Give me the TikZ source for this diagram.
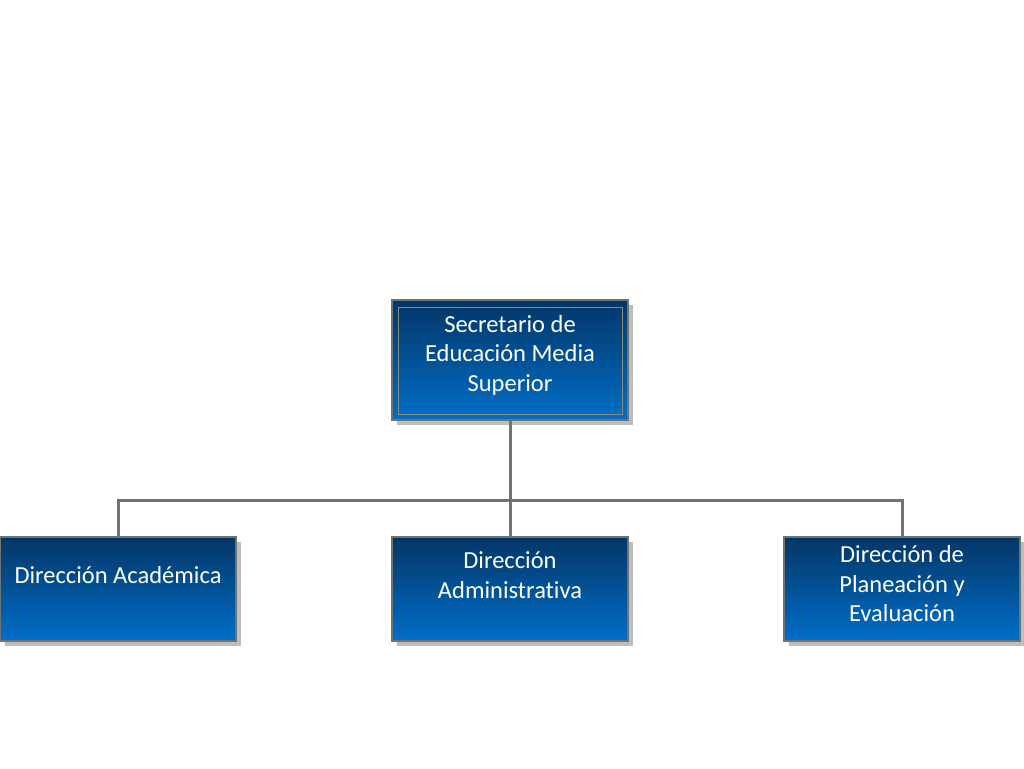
\documentclass[tikz,border=0pt]{standalone}
\usepackage{fontspec}
\setmainfont[Ligatures=NoCommon]{Carlito}
\usetikzlibrary{shadows}
\definecolor{boxtop}{RGB}{4,54,102}
\definecolor{boxbot}{RGB}{0,110,200}
\definecolor{linegray}{RGB}{110,116,114}
\definecolor{shadowgray}{RGB}{190,190,190}
\definecolor{innergray}{RGB}{140,140,120}
\tikzset{
  orgbox/.style={rectangle, draw=linegray, line width=1.2pt, top color=boxtop, bottom color=boxbot,
    minimum width=236pt, minimum height=#1, inner sep=0pt,
    drop shadow={shadow xshift=5pt, shadow yshift=-5pt, fill=shadowgray, opacity=1}},
  lbl/.style={text=white, align=center, font=\fontsize{24.5}{29.5}\selectfont, inner sep=0pt},
  conn/.style={draw=linegray, line width=3pt}
}
\begin{document}
\begin{tikzpicture}[x=1pt,y=-1pt]
\useasboundingbox (0,0) rectangle (1024,768);
\node[orgbox=120pt] (top) at (510,360) {};
\draw[innergray, line width=1pt] (398,307) rectangle (622,414);
\node[orgbox=104pt] (da) at (118,589) {};
\node[orgbox=104pt] (dad) at (510,589) {};
\node[orgbox=104pt] (dp) at (902,589) {};
\node[lbl] (ttop) at (510,355) {Secretario de\\Educación Media\\Superior};
\node[lbl] (tda) at (118,575) {Dirección Académica};
\node[lbl] (tdad) at (510,575) {Dirección\\Administrativa};
\node[lbl] (tdp) at (902,584) {Dirección de\\Planeación y\\Evaluación};
\coordinate (j) at (510,500);
\draw[conn] (top.south) -- (j);
\draw[conn] (da.north) |- (j) -| (dp.north);
\draw[conn] (j) -- (dad.north);
\end{tikzpicture}
\end{document}
